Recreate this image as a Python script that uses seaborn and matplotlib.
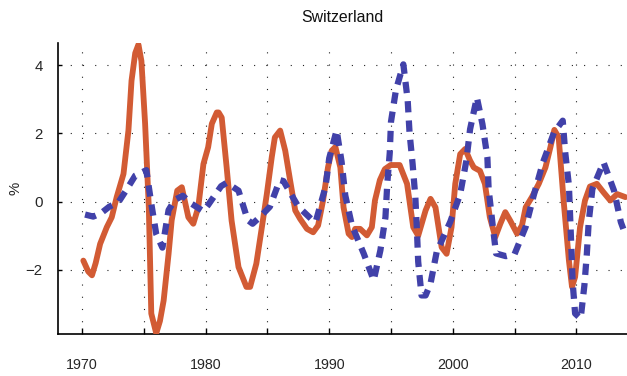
import matplotlib
matplotlib.use("Agg")
import matplotlib.pyplot as plt
from matplotlib.ticker import MultipleLocator, FuncFormatter
import pandas as pd
import seaborn as sns

# Output gap estimates for Switzerland, % (decimal years)
series_a_years = [
    1970.1, 1970.5, 1970.8, 1971.1, 1971.46, 1972.0, 1972.4, 1972.8, 1973.35, 1973.75,
    1974.0, 1974.3, 1974.56, 1974.8, 1975.1, 1975.4, 1975.6, 1976.0, 1976.3, 1976.6,
    1977.0, 1977.25, 1977.7, 1978.07, 1978.6, 1979.0, 1979.4, 1979.82, 1980.2, 1980.5,
    1980.9, 1981.05, 1981.3, 1981.7, 1982.1, 1982.66, 1983.3, 1983.6, 1984.1, 1984.55,
    1984.95, 1985.35, 1985.6, 1986.03, 1986.44, 1986.84, 1987.25, 1987.65, 1988.2, 1988.7,
    1989.1, 1989.5, 1989.9, 1990.2, 1990.5, 1990.9, 1991.16, 1991.57, 1991.84, 1992.1,
    1992.5, 1993.05, 1993.45, 1993.7, 1994.1, 1994.5, 1994.97, 1995.7, 1996.3, 1996.8,
    1997.2, 1997.8, 1998.2, 1998.6, 1999.1, 1999.5, 1999.9, 2000.2, 2000.6, 2001.0,
    2001.4, 2001.7, 2002.2, 2002.6, 2003.0, 2003.44, 2003.85, 2004.25, 2004.65, 2005.2,
    2005.6, 2005.9, 2006.4, 2006.96, 2007.5, 2007.9, 2008.22, 2008.57, 2008.97, 2009.4,
    2009.65, 2009.9, 2010.3, 2010.7, 2011.1, 2011.66, 2012.2, 2012.75, 2013.3, 2013.97,
]
series_a_values = [
    -1.73, -2.05, -2.16, -1.8, -1.24, -0.75, -0.46, 0.13, 0.81, 2.08,
    3.54, 4.35, 4.6, 4.12, 2.28, -0.17, -3.28, -3.86, -3.5, -2.9,
    -1.53, -0.55, 0.32, 0.42, -0.46, -0.65, -0.17, 1.1, 1.59, 2.28,
    2.61, 2.61, 2.46, 1.0, -0.56, -1.92, -2.5, -2.5, -1.82, -0.75,
    0.22, 1.3, 1.88, 2.08, 1.49, 0.61, -0.26, -0.51, -0.8, -0.9,
    -0.7, 0.03, 1.0, 1.49, 1.6, 1.0, -0.17, -0.94, -1.04, -0.8,
    -0.8, -0.99, -0.75, 0.03, 0.63, 0.95, 1.07, 1.07, 0.52, -0.75,
    -1.0, -0.26, 0.08, -0.17, -1.34, -1.53, -0.75, 0.52, 1.39, 1.54,
    1.2, 1.0, 0.9, 0.52, -0.46, -1.04, -0.65, -0.31, -0.56, -0.94,
    -0.7, -0.17, 0.13, 0.52, 1.0, 1.59, 2.1, 1.88, 0.03, -1.73,
    -2.5, -2.21, -0.75, 0.03, 0.44, 0.52, 0.27, 0.03, 0.22, 0.13,
]

series_b_years = [
    1970.24, 1970.9, 1971.5, 1972.2, 1972.94, 1973.6, 1974.3, 1975.2, 1975.6, 1976.0,
    1976.5, 1977.0, 1977.5, 1978.15, 1978.8, 1979.8, 1980.2, 1981.25, 1981.7, 1982.66,
    1983.4, 1983.8, 1984.4, 1985.2, 1986.0, 1986.3, 1987.5, 1988.6, 1988.9, 1989.7,
    1990.0, 1990.6, 1991.0, 1991.3, 1991.84, 1992.8, 1993.6, 1994.14, 1994.55, 1994.7,
    1994.9, 1995.0, 1995.4, 1996.0, 1996.35, 1996.5, 1996.75, 1996.97, 1997.1, 1997.2,
    1997.47, 1997.8, 1998.2, 1998.7, 1999.8, 2000.6, 2001.1, 2001.4, 2001.95, 2002.4,
    2002.8, 2002.9, 2003.2, 2003.5, 2004.3, 2005.0, 2005.9, 2006.55, 2007.3, 2008.2,
    2008.9, 2009.1, 2009.4, 2009.5, 2009.6, 2009.7, 2009.9, 2010.35, 2010.65, 2010.85,
    2011.0, 2011.3, 2012.2, 2013.05, 2013.6, 2013.8,
]
series_b_values = [
    -0.38, -0.44, -0.35, -0.15, -0.02, 0.35, 0.76, 0.92, -0.06, -0.95,
    -1.35, -0.25, 0.05, 0.17, -0.05, -0.28, -0.1, 0.45, 0.55, 0.32,
    -0.54, -0.65, -0.45, -0.15, 0.63, 0.6, -0.15, -0.53, -0.6, 0.43,
    1.27, 2.09, 1.17, 0.18, -0.7, -1.53, -2.31, -1.43, -0.46, 0.53,
    1.43, 2.34, 3.27, 4.02, 2.97, 2.02, 1.1, 0.13, -0.85, -1.76,
    -2.75, -2.75, -2.4, -1.47, -0.59, 0.22, 1.2, 2.12, 3.05, 2.27,
    1.3, 0.37, -0.6, -1.52, -1.6, -1.54, -0.74, 0.18, 1.15, 2.03,
    2.37, 1.44, 0.47, -0.46, -1.38, -2.36, -3.28, -3.43, -2.46, -1.53,
    -0.6, 0.37, 1.15, 0.32, -0.6, -0.8,
]

title_text = "Switzerland"
y_label = "%"
x_ticks = [1970, 1975, 1980, 1985, 1990, 1995, 2000, 2005, 2010]
y_ticks = [-2, 0, 2, 4]

orange = "#D25B34"
blue = "#4141A9"

sns.set_theme(style="white")
plt.rcParams["font.family"] = ["Liberation Sans", "DejaVu Sans"]

df_a = pd.DataFrame({"year": series_a_years, "value": series_a_values})
df_b = pd.DataFrame({"year": series_b_years, "value": series_b_values})

fig = plt.figure(figsize=(6.27, 3.76), dpi=100)
ax = fig.add_axes([0.0925, 0.1117, 0.9075, 0.7739])

sns.lineplot(data=df_a, x="year", y="value", ax=ax, color=orange,
             linewidth=4.2, solid_capstyle="round", solid_joinstyle="round",
             zorder=3)
sns.lineplot(data=df_b, x="year", y="value", ax=ax, color=blue,
             linewidth=4.5, linestyle=(0, (1.8, 1.3)), dash_capstyle="butt",
             zorder=4)

ax.set_xlim(1968.05, 2014.1)
ax.set_ylim(-3.88, 4.645)

ax.xaxis.set_major_locator(MultipleLocator(5))
ax.xaxis.set_major_formatter(
    FuncFormatter(lambda v, pos: f"{int(round(v))}" if round(v) % 10 == 0 else ""))
ax.set_yticks(y_ticks)
ax.set_yticklabels(["\u22122" if t == -2 else str(t) for t in y_ticks])

ax.grid(True, axis="both", color="#222222", linewidth=0.8,
        linestyle=(0, (1, 10)))
ax.set_axisbelow(True)

for side in ("top", "right"):
    ax.spines[side].set_visible(False)
for side in ("left", "bottom"):
    ax.spines[side].set_color("black")
    ax.spines[side].set_linewidth(1.2)

ax.tick_params(axis="x", direction="in", length=4, width=1.0, color="black",
               labelsize=10.3, pad=17, bottom=True)
ax.tick_params(axis="y", direction="in", length=3, width=1.0, color="black",
               labelsize=10.8, pad=11, left=True)

ax.set_xlabel("")
ax.set_ylabel(y_label, fontsize=10.8)
ax.yaxis.set_label_coords(-0.062, 0.5)
ax.set_title(title_text, fontsize=11.4, pad=15, color="#111111")

fig.savefig("out.png", dpi=100)
